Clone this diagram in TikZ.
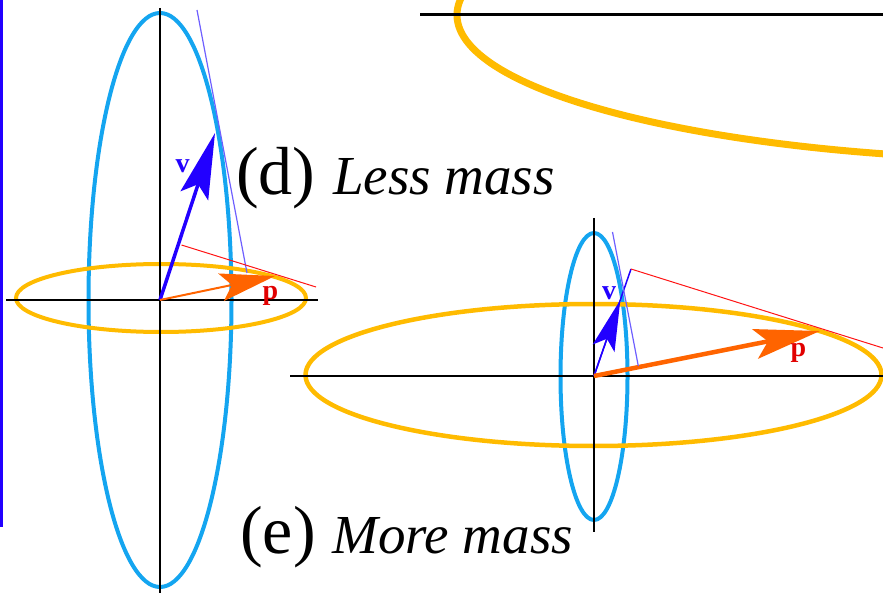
\documentclass[tikz,border=0pt]{standalone}
\usepackage{fontspec}
\setmainfont{LiberationSerif}[Extension=.ttf,UprightFont=*-Regular,BoldFont=*-Bold,ItalicFont=*-Italic,BoldItalicFont=*-BoldItalic]
\usetikzlibrary{arrows.meta}
\definecolor{edgeblue}{RGB}{34,0,255}
\definecolor{vblue}{RGB}{34,0,255}
\definecolor{tanblue}{RGB}{110,95,255}
\definecolor{ellblue}{RGB}{20,165,240}
\definecolor{ellorange}{RGB}{255,187,0}
\definecolor{porange}{RGB}{255,100,0}
\definecolor{tanred}{RGB}{255,20,20}
\definecolor{labred}{RGB}{225,0,0}
\begin{document}
\begin{tikzpicture}[x=1pt,y=-1pt,
  axisline/.style={black,line width=1.8pt},
  ellb/.style={draw=ellblue,line width=4pt},
  ello/.style={draw=ellorange,line width=4pt},
  tanb/.style={draw=tanblue,line width=1.2pt},
  tanr/.style={draw=tanred,line width=1pt},
  varrow/.style={draw=vblue,fill=vblue},
  parrow/.style={draw=porange,fill=porange},
  veclab/.style={font=\fontsize{28}{30}\selectfont\bfseries,inner sep=0pt},
  bigpar/.style={font=\fontsize{68}{70}\selectfont,anchor=base west,inner sep=0pt},
  capt/.style={font=\fontsize{55}{60}\selectfont\itshape,anchor=base west,inner sep=0pt}]
\useasboundingbox (0,0) rectangle (883,593);
\clip (0,0) rectangle (883,593);

% left edge line
\coordinate (L1) at (1.5,0);
\coordinate (L2) at (1.5,527);
\draw[edgeblue,line width=3pt] (L1) -- (L2);

% top: partial big ellipse and axis
\draw[draw=ellorange,line width=7pt] (1057,15) ellipse [x radius=600pt,y radius=145pt];
\coordinate (T1) at (420,15);
\coordinate (T2) at (883,15);
\draw[black,line width=3pt] (T1) -- (T2);

% ---------- (d) ----------
\coordinate (Od) at (160,300);
\draw[ellb] (160,300) ellipse [x radius=71.5pt,y radius=287pt];
\draw[ello] (161,298) ellipse [x radius=145pt,y radius=34pt];
\coordinate (dV1) at (160,8);
\coordinate (dV2) at (160,593);
\coordinate (dH1) at (6,300);
\coordinate (dH2) at (318,300);
\draw[axisline] (dV1) -- (dV2);
\draw[axisline] (dH1) -- (dH2);

\coordinate (dvtip) at (215,133);
\coordinate (dptip) at (275,276);
\draw[varrow,line width=3.5pt,-{Stealth[length=66pt,width=29pt,inset=12pt]}] (Od) -- (dvtip);
\draw[parrow,line width=2pt,-{Stealth[length=55pt,width=28pt,inset=11pt]}] (Od) -- (dptip);

\coordinate (dtb1) at (197,10);
\coordinate (dtb2) at (247,273);
\draw[tanb] (dtb1) -- (dtb2);
\coordinate (dtr1) at (181.5,245);
\coordinate (dtr2) at (316,287);
\draw[tanr] (dtr1) -- (dtr2);

\node[veclab,text=vblue] (dvl) at (182.5,166) {v};
\node[veclab,text=labred] (dpl) at (270.5,296) {p};

\node[bigpar] (dlab) at (236,195) {(d)};
\node[capt] (dcap) at (333,195) {Less mass};

% ---------- (e) ----------
\coordinate (Oe) at (594,376);
\draw[ellb] (594,376.5) ellipse [x radius=33.5pt,y radius=143.5pt];
\draw[draw=ellorange,line width=4.5pt] (593.5,375) ellipse [x radius=288pt,y radius=71pt];
\coordinate (eV1) at (594,218);
\coordinate (eV2) at (594,532);
\coordinate (eH1) at (290,376);
\coordinate (eH2) at (883,376);
\draw[axisline] (eV1) -- (eV2);
\draw[axisline] (eH1) -- (eH2);

\coordinate (evend) at (631,269);
\coordinate (evtip) at (620.3,300);
\coordinate (eptip) at (820,331);
\draw[draw=vblue,line width=1.5pt] (Oe) -- (evend);
\draw[varrow,line width=1.5pt,-{Stealth[length=51pt,width=23pt,inset=10pt]}] (Oe) -- (evtip);
\draw[parrow,line width=4.5pt,-{Stealth[length=66pt,width=30pt,inset=13pt]}] (Oe) -- (eptip);

\coordinate (etb1) at (612.5,232);
\coordinate (etb2) at (638.3,366);
\draw[tanb] (etb1) -- (etb2);
\coordinate (etr2) at (883,348);
\draw[tanr] (evend) -- (etr2);

\node[veclab,text=vblue] (evl) at (609,293) {v};
\node[veclab,text=labred] (epl) at (798.5,353) {p};

\node[bigpar] (elab) at (240,553) {(e)};
\node[capt] (ecap) at (332,553) {More mass};
\end{tikzpicture}
\end{document}
